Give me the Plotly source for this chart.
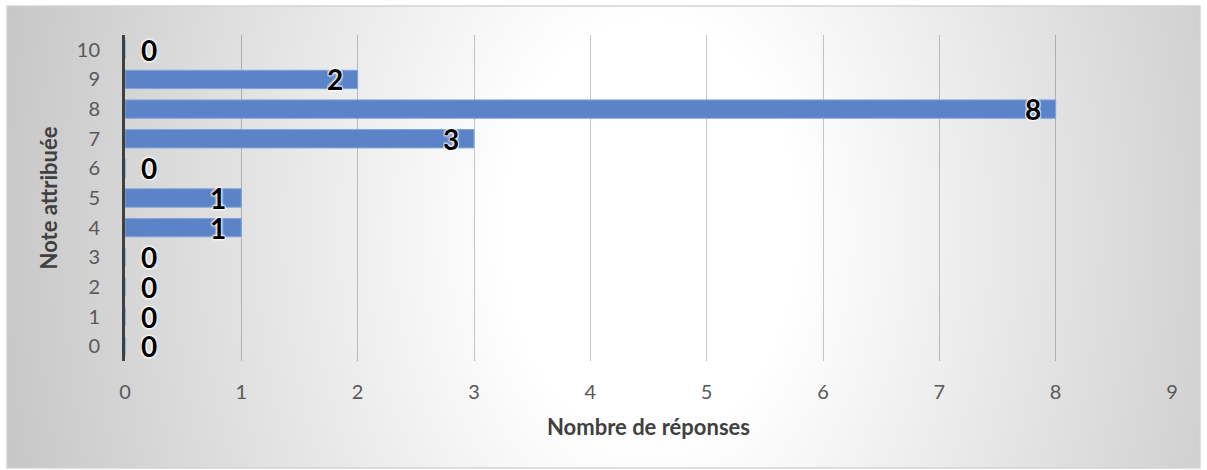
import base64, struct, zlib
import numpy as np
import plotly.graph_objects as go

# ---- data ----
categories = ["0", "1", "2", "3", "4", "5", "6", "7", "8", "9", "10"]
values = [0, 0, 0, 0, 1, 1, 0, 3, 8, 2, 0]
x_ticks = [0, 1, 2, 3, 4, 5, 6, 7, 8, 9]
x_title = "Nombre de réponses"
y_title = "Note attribuée"

# ---- geometry ----
W, H = 1207, 470
ML, MR, MT, MB = 125, 35, 35, 109
PW, PH = W - ML - MR, H - MT - MB
BX0, BY0, BX1, BY1 = 7, 6, 1200, 468  # chart-area frame (px)

def px2paper_x(px):
    return (px - ML) / PW

def py2paper_y(py):
    return (H - MB - py) / PH

# ---- radial grey background as a PNG ----
gw, gh = BX1 - BX0, BY1 - BY0
xx, yy = np.meshgrid(np.arange(gw) + BX0, np.arange(gh) + BY0)
cx, cy = 650, 230
d = np.sqrt((xx - cx) ** 2 + ((yy - cy) * 0.7) ** 2)
val = 255 - 60 * np.clip((d - 150) / 550, 0, 1)
img = val.astype(np.uint8)
raw = b"".join(b"\x00" + img[r].tobytes() for r in range(gh))

def chunk(tag, data):
    c = struct.pack(">I", len(data)) + tag + data
    return c + struct.pack(">I", zlib.crc32(tag + data) & 0xFFFFFFFF)

png = b"\x89PNG\r\n\x1a\n" + chunk(b"IHDR", struct.pack(">IIBBBBB", gw, gh, 8, 0, 0, 0, 0)) \
      + chunk(b"IDAT", zlib.compress(raw, 9)) + chunk(b"IEND", b"")
bg_uri = "data:image/png;base64," + base64.b64encode(png).decode()

FONT = "Lato"
GLOW = "0px 0px 3px white, 0px 0px 3px white, 0px 0px 3px white, 0px 0px 2px white"

fig = go.Figure()
fig.add_trace(go.Bar(
    y=categories, x=values, orientation="h",
    marker=dict(color="#5b84c8", line=dict(color="#86a3da", width=1)),
    width=0.62, hoverinfo="x+y",
))

annotations = []
for c, v in zip(categories, values):
    zero = (v == 0)
    annotations.append(dict(x=v, y=c, xref="x", yref="y", text=str(v), showarrow=False,
                            xanchor="left" if zero else "right",
                            xshift=14 if zero else -13,
                            height=26,
                            font=dict(family=FONT, size=28, color="black", weight="bold",
                                      shadow=GLOW)))

fig.update_layout(
    width=W, height=H,
    margin=dict(l=ML, r=MR, t=MT, b=MB, autoexpand=False),
    paper_bgcolor="white", plot_bgcolor="rgba(0,0,0,0)",
    font=dict(family=FONT, size=20, color="#595959"),
    showlegend=False,
    annotations=annotations,
    images=[dict(source=bg_uri, xref="paper", yref="paper",
                 x=px2paper_x(BX0), y=py2paper_y(BY0),
                 sizex=gw / PW, sizey=gh / PH,
                 xanchor="left", yanchor="top", sizing="stretch", layer="below")],
    shapes=[dict(type="rect", xref="paper", yref="paper",
                 x0=px2paper_x(BX0), x1=px2paper_x(BX1),
                 y0=py2paper_y(BY1), y1=py2paper_y(BY0),
                 line=dict(color="#d4d4d4", width=1.5), layer="above")],
    xaxis=dict(range=[0, 9], tickvals=x_ticks, showgrid=True,
               gridcolor="rgba(0,0,0,0.22)", gridwidth=1, zeroline=False,
               showline=False, ticks="", ticklabelstandoff=17,
               tickfont=dict(family=FONT, size=20, color="#595959"),
               title=dict(text=x_title, standoff=17,
                          font=dict(family=FONT, size=22, color="#404040", weight="bold"))),
    yaxis=dict(type="category", categoryorder="array", categoryarray=categories,
               range=[-0.5, 10.5], showgrid=False, zeroline=False,
               showline=True, linecolor="#404040", linewidth=3, ticks="",
               ticklabelstandoff=18,
               tickfont=dict(family=FONT, size=20, color="#595959"),
               title=dict(text=y_title, standoff=14,
                          font=dict(family=FONT, size=22, color="#404040", weight="bold"))),
)

fig.write_html("out.html", config={"displayModeBar": False},
               post_script="document.body.style.margin='0';")
